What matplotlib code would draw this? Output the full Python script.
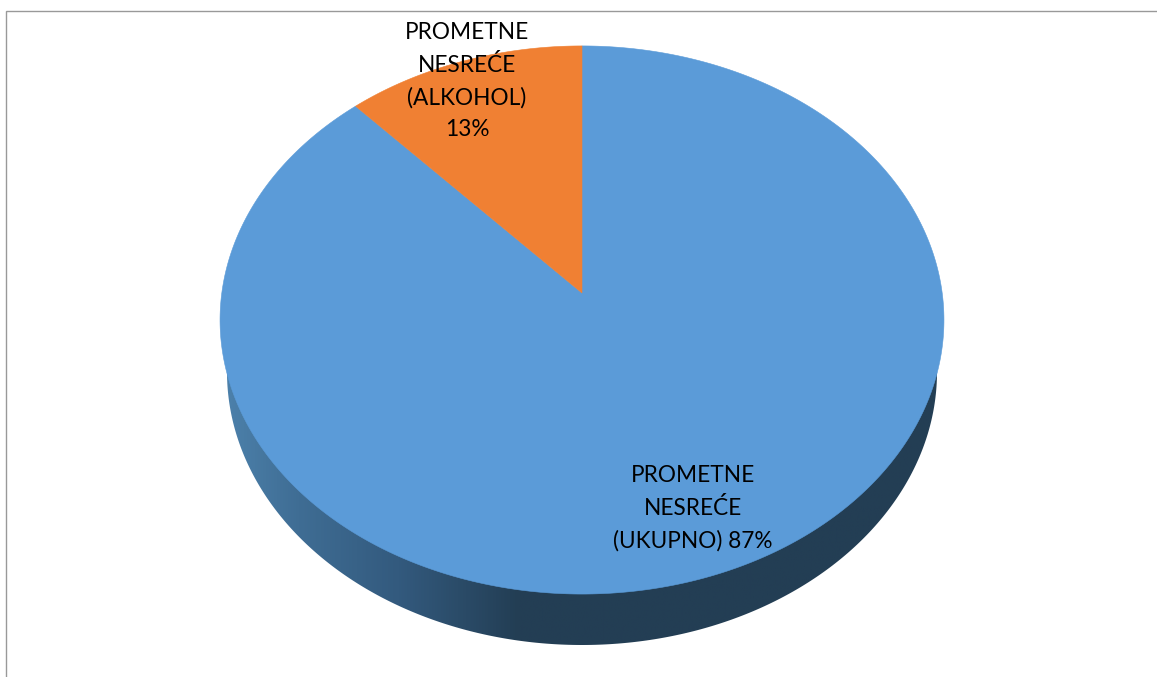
#!/usr/bin/env python3
# -*- coding: utf-8 -*-
import numpy as np
from matplotlib import pyplot as plt
from matplotlib.colors import LinearSegmentedColormap
from matplotlib.patches import Polygon

plt.rcParams['font.family'] = ['Lato', 'DejaVu Sans']

# Data
values = [87, 13]
labels = ['PROMETNE\nNESREĆE\n(UKUPNO) 87%', 'PROMETNE\nNESREĆE\n(ALKOHOL)\n13%']
colors = ['#5b9bd8', '#f08033']

# Figure is laid out in pixels, y going down
fig = plt.figure(figsize=(11.57, 6.77), dpi=100)
ax = fig.add_axes([0, 0, 1, 1])

wedges, _ = ax.pie(values, colors=colors, startangle=90, counterclock=False)

ax.set_aspect('auto')
ax.set_xlim(0, 1157)
ax.set_ylim(677, 0)
ax.axis('off')

# Fake 3D tilt: unit disc -> ellipse, centre sits above the middle of the ellipse
k = 0.0985
cx, cy = 582, 293
sx, sy = 360.2, 271.4
warp = 0.077


def project(theta):
    phi = np.radians(90 - theta)
    phi = phi - warp * np.sin(2 * phi)
    u = np.sin(phi)
    v = np.cos(phi)
    s = 1 + k * v
    return cx + sx * u / s, cy - sy * v / s


# Side wall, gradient clipped to the lower outline
ox = 582 + 355 * np.cos(np.linspace(0, np.pi, 300))
oy = 372 + 273 * np.sin(np.linspace(0, np.pi, 300))
wall = Polygon(np.column_stack([ox, oy]), closed=True, transform=ax.transData,
               facecolor='none', edgecolor='none')
ax.add_patch(wall)
wall_cmap = LinearSegmentedColormap.from_list(
    'wall', [(0, '#4c80aa'), (0.1, '#3f6d94'), (0.24, '#335a7e'),
             (0.41, '#233e54'), (1, '#233e54')])
grad = np.linspace(0, 1, 512).reshape(1, -1)
im = ax.imshow(grad, extent=[227, 937, 645, 372], cmap=wall_cmap, aspect='auto',
               zorder=1)
im.set_clip_path(wall)
ax.set_xlim(0, 1157)
ax.set_ylim(677, 0)

# Top face, from the wedges that pie worked out
for w in wedges:
    w.set_visible(False)
    t = np.linspace(w.theta1, w.theta2, 500)
    x, y = project(t)
    ax.fill(np.r_[cx, x], np.r_[cy, y], facecolor=w.get_facecolor(),
            edgecolor=w.get_facecolor(), lw=0.4, zorder=2)

# Labels
ax.text(693, 508, labels[0], ha='center', va='center', fontsize=16.3,
        linespacing=1.62, color='black', zorder=3)
ax.text(467, 81, labels[1], ha='center', va='center', fontsize=16.3,
        linespacing=1.62, color='black', zorder=3)

# Chart frame, only left and top are in the crop
ax.plot([5.5, 5.5, 1157], [677, 10.5, 10.5], color='#999999', lw=1, zorder=0,
        solid_joinstyle='miter')

fig.savefig('out.png', dpi=100)
